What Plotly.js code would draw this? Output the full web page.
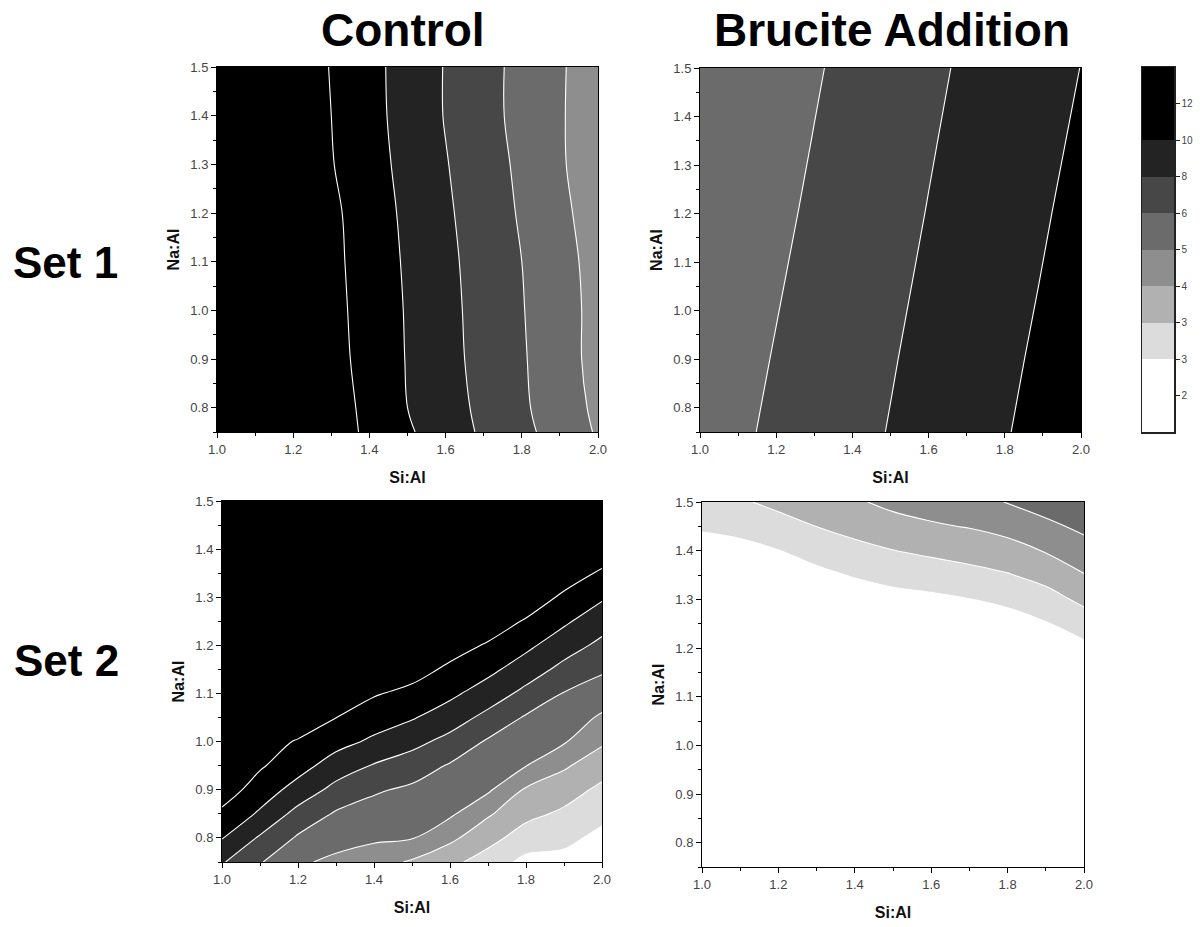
<!DOCTYPE html>
<html>
<head>
<meta charset="utf-8">
<script src="https://cdn.plot.ly/plotly-3.0.1.min.js"></script>
<style>html,body{margin:0;padding:0;background:#fff}</style>
</head>
<body>
<div id="chart" style="width:1204px;height:927px"></div>
<script>
// ---- axes grids ----
const siAl = [1.0, 1.1, 1.2, 1.3, 1.4, 1.5, 1.6, 1.7, 1.8, 1.9, 2.0];
const naAlSet1Control = [0.75, 0.8, 0.9, 1.0, 1.1, 1.2, 1.3, 1.4, 1.5];
const naAlSet1Brucite = [0.75, 0.9, 1.05, 1.2, 1.35, 1.5];
const naAlSet2 = [0.75, 0.8, 0.85, 0.9, 0.95, 1.0, 1.05, 1.1, 1.15, 1.2, 1.25, 1.3, 1.35, 1.4, 1.45, 1.5];

// ---- Set 1, Control (rows = Na:Al, cols = Si:Al) ----
const set1Control = [
  [17.2, 15.8, 14.4, 13.0, 11.6, 10.25, 9.0, 7.7, 6.5, 5.6, 4.9],
  [17.2, 15.8, 14.3, 12.9, 11.5, 10.0, 8.8, 7.55, 6.3, 5.5, 4.8],
  [17.0, 15.6, 14.1, 12.7, 11.3, 9.9, 8.6, 7.4, 6.2, 5.4, 4.7],
  [16.7, 15.35, 14.0, 12.6, 11.2, 9.85, 8.55, 7.3, 6.1, 5.4, 4.7],
  [16.7, 15.3, 13.9, 12.5, 11.1, 9.75, 8.45, 7.2, 6.0, 5.35, 4.65],
  [16.6, 15.2, 13.8, 12.4, 11.0, 9.6, 8.3, 7.0, 5.9, 5.2, 4.6],
  [16.2, 14.8, 13.5, 12.1, 10.8, 9.4, 8.1, 6.9, 5.8, 5.1, 4.5],
  [16.0, 14.6, 13.3, 12.0, 10.6, 9.3, 7.9, 6.7, 5.7, 5.1, 4.4],
  [16.0, 14.6, 13.3, 11.9, 10.6, 9.2, 7.9, 6.7, 5.7, 5.1, 4.5]
];

// ---- Set 1, Brucite Addition (rows = Na:Al, cols = Si:Al) ----
const set1Brucite = [
  [5.57, 5.86, 6.31, 6.9, 7.49, 8.08, 8.69, 9.29, 9.9, 10.5, 11.1],
  [5.46, 5.75, 6.1, 6.69, 7.28, 7.88, 8.48, 9.08, 9.69, 10.29, 10.9],
  [5.35, 5.65, 5.94, 6.48, 7.08, 7.67, 8.27, 8.87, 9.47, 10.07, 10.68],
  [5.23, 5.53, 5.83, 6.26, 6.86, 7.46, 8.06, 8.66, 9.26, 9.86, 10.46],
  [5.12, 5.42, 5.72, 6.05, 6.65, 7.25, 7.86, 8.45, 9.05, 9.64, 10.24],
  [5.06, 5.31, 5.61, 5.92, 6.44, 7.04, 7.65, 8.25, 8.84, 9.43, 10.02]
];

// ---- Set 2, Control (one list per Si:Al column, Na:Al ascending) ----
const set2Control = [
  [8.19, 10.09, 11.58, 13.07, 13.47, 13.87, 14.27, 14.67, 15.07, 15.47, 15.87, 16.27, 16.67, 17.07, 17.47, 17.87],
  [6.16, 7.75, 9.71, 11.04, 12.24, 12.64, 13.04, 13.44, 13.84, 14.24, 14.64, 15.04, 15.44, 15.84, 16.24, 16.64],
  [5.15, 5.88, 7.33, 9.26, 10.74, 11.87, 12.99, 13.39, 13.79, 14.19, 14.59, 14.99, 15.39, 15.79, 16.19, 16.59],
  [4.79, 5.37, 5.89, 7.38, 9.10, 10.65, 12.01, 13.35, 13.75, 14.15, 14.55, 14.95, 15.35, 15.75, 16.15, 16.55],
  [4.39, 5.17, 5.62, 6.23, 7.84, 9.64, 10.96, 12.17, 12.57, 12.97, 13.37, 13.77, 14.17, 14.57, 14.97, 15.37],
  [3.88, 5.05, 5.44, 5.83, 6.97, 8.6, 10.16, 11.47, 12.79, 13.19, 13.59, 13.99, 14.39, 14.79, 15.19, 15.59],
  [3.26, 4.22, 5.16, 5.54, 5.91, 7.36, 8.98, 10.41, 11.61, 12.82, 13.22, 13.62, 14.02, 14.42, 14.82, 15.22],
  [2.77, 3.34, 4.12, 5.15, 5.52, 5.88, 7.42, 9.07, 10.49, 11.79, 13.09, 13.49, 13.89, 14.29, 14.69, 15.09],
  [2.37, 2.77, 3.27, 3.87, 5.02, 5.45, 5.89, 7.45, 9.03, 10.44, 11.81, 13.18, 13.58, 13.98, 14.38, 14.78],
  [2.35, 2.63, 2.91, 3.44, 4.13, 5.09, 5.52, 5.95, 7.42, 8.91, 10.32, 11.65, 12.99, 13.39, 13.79, 14.19],
  [2.11, 2.37, 2.63, 2.89, 3.43, 4.14, 4.86, 5.51, 6.27, 7.51, 8.83, 10.24, 11.71, 13.18, 13.58, 13.98]
];

// ---- Set 2, Brucite Addition (one list per Si:Al column, Na:Al ascending) ----
const set2Brucite = [
  [1.66, 1.71, 1.76, 1.81, 1.86, 1.91, 1.96, 2.01, 2.06, 2.11, 2.16, 2.21, 2.26, 2.31, 2.56, 2.81],
  [1.70, 1.75, 1.80, 1.85, 1.90, 1.95, 2.00, 2.05, 2.10, 2.15, 2.20, 2.25, 2.30, 2.35, 2.65, 2.94],
  [1.84, 1.89, 1.94, 1.99, 2.04, 2.09, 2.14, 2.19, 2.24, 2.29, 2.34, 2.39, 2.44, 2.49, 2.81, 3.25],
  [1.78, 1.83, 1.88, 1.93, 1.98, 2.03, 2.08, 2.13, 2.18, 2.23, 2.28, 2.33, 2.38, 2.69, 3.01, 3.59],
  [1.68, 1.73, 1.78, 1.83, 1.88, 1.93, 1.98, 2.03, 2.08, 2.13, 2.18, 2.23, 2.54, 2.86, 3.32, 3.89],
  [1.79, 1.84, 1.89, 1.94, 1.99, 2.04, 2.09, 2.14, 2.19, 2.24, 2.29, 2.34, 2.66, 2.99, 3.68, 4.21],
  [1.85, 1.90, 1.95, 2.00, 2.05, 2.10, 2.15, 2.20, 2.25, 2.30, 2.35, 2.40, 2.75, 3.19, 3.90, 4.38],
  [1.94, 1.99, 2.04, 2.09, 2.14, 2.19, 2.24, 2.29, 2.34, 2.39, 2.44, 2.49, 2.85, 3.39, 4.05, 4.64],
  [1.77, 1.82, 1.87, 1.92, 1.97, 2.02, 2.07, 2.12, 2.17, 2.22, 2.27, 2.62, 2.97, 3.63, 4.33, 5.04],
  [1.97, 2.02, 2.07, 2.12, 2.17, 2.22, 2.27, 2.32, 2.37, 2.42, 2.47, 2.81, 3.33, 4.06, 4.76, 5.46],
  [1.93, 1.98, 2.03, 2.08, 2.13, 2.18, 2.23, 2.28, 2.33, 2.38, 2.75, 3.23, 3.96, 4.59, 5.23, 5.86]
];

// ---- colour levels (colour-bar bands) ----
const levelValues = [1, 2, 2.5, 3, 4, 5, 6, 8, 10, 12, 14];
const levelLabels = ['2', '3', '3', '4', '5', '6', '8', '10', '12'];
const bandColors = ['#ffffff', '#ffffff', '#dcdcdc', '#b1b1b1', '#8e8e8e', '#6b6b6b', '#474747', '#232323', '#000000', '#000000'];

// map a value onto the (equally spaced) level index used by the colour bar
function levelIndex(v) {
  const L = levelValues, n = L.length - 1;
  if (v <= L[0]) return (v - L[0]) / (L[1] - L[0]);
  for (let i = 0; i < n; i++) if (v <= L[i + 1]) return i + (v - L[i]) / (L[i + 1] - L[i]);
  return n + (v - L[n]) / (L[n] - L[n - 1]);
}
const mapGrid = g => g.map(r => r.map(levelIndex));

// contour colorscale: fills evaluated at level+0.5 for levels 2..9, background at 1.5
const nLev = 8;
const contourScale = [];
for (let k = 0; k <= nLev; k++) contourScale.push([k / nLev, bandColors[k + 1]]);

const FONT = 'Liberation Sans, Arial, sans-serif';

function contourTrace(x, y, z, xa, ya, transpose) {
  return {
    type: 'contour', x: x, y: y, z: mapGrid(z), transpose: !!transpose,
    xaxis: xa, yaxis: ya,
    autocontour: false,
    contours: {start: 2, end: 9, size: 1, coloring: 'fill', showlines: true},
    line: {color: '#ffffff', width: 1.1, smoothing: 1.1},
    colorscale: contourScale, showscale: false, hoverinfo: 'skip'
  };
}

// colour bar drawn as a one-column heatmap on its own axes
const barIdx = bandColors.map((c, i) => i + 0.5);
const barScale = [];
bandColors.forEach((c, i) => { barScale.push([i / bandColors.length, c]); barScale.push([(i + 1) / bandColors.length, c]); });

const traces = [
  contourTrace(siAl, naAlSet1Control, set1Control, 'x', 'y', false),
  contourTrace(siAl, naAlSet1Brucite, set1Brucite, 'x2', 'y2', false),
  contourTrace(siAl, naAlSet2, set2Control, 'x3', 'y3', true),
  contourTrace(siAl, naAlSet2, set2Brucite, 'x4', 'y4', true),
  {
    type: 'heatmap', x: [0], y: barIdx, z: barIdx.map(v => [v]),
    zmin: 0, zmax: bandColors.length, colorscale: barScale, showscale: false,
    xaxis: 'x5', yaxis: 'y5', hoverinfo: 'skip'
  }
];

const W = 1204, H = 927;
const px = (a, b) => [a / W, b / W];
const py = (top, bottom) => [1 - bottom / H, 1 - top / H];

function xAxis(dom, anchor) {
  return {
    domain: dom, anchor: anchor, range: [1, 2], tick0: 1, dtick: 0.2, tickformat: '.1f',
    ticks: 'outside', ticklen: 5, tickwidth: 1, tickcolor: '#000',
    minor: {dtick: 0.1, ticks: 'outside', ticklen: 3, tickwidth: 1, tickcolor: '#000'},
    showline: true, linecolor: '#000', linewidth: 1, mirror: true,
    showgrid: false, zeroline: false,
    tickfont: {family: FONT, size: 13, color: '#444'},
    title: {text: '<b>Si:Al</b>', font: {family: FONT, size: 16, color: '#111'}, standoff: 16}
  };
}
function yAxis(dom, anchor) {
  return {
    domain: dom, anchor: anchor, range: [0.75, 1.5], tick0: 0.8, dtick: 0.1, tickformat: '.1f',
    ticks: 'outside', ticklen: 5, tickwidth: 1, tickcolor: '#000',
    minor: {dtick: 0.05, tick0: 0.75, ticks: 'outside', ticklen: 3, tickwidth: 1, tickcolor: '#000'},
    showline: true, linecolor: '#000', linewidth: 1, mirror: true,
    showgrid: false, zeroline: false,
    tickfont: {family: FONT, size: 13, color: '#444'},
    title: {text: '<b>Na:Al</b>', font: {family: FONT, size: 16, color: '#111'}, standoff: 6}
  };
}

const layout = {
  width: W, height: H, margin: {l: 0, r: 0, t: 0, b: 0},
  paper_bgcolor: '#fff', plot_bgcolor: '#fff', showlegend: false,
  font: {family: FONT},
  xaxis: xAxis(px(217, 598), 'y'), yaxis: yAxis(py(67, 432), 'x'),
  xaxis2: xAxis(px(700, 1081), 'y2'), yaxis2: yAxis(py(68, 432), 'x2'),
  xaxis3: xAxis(px(222, 602), 'y3'), yaxis3: yAxis(py(501, 862), 'x3'),
  xaxis4: xAxis(px(702, 1084), 'y4'), yaxis4: yAxis(py(502, 867), 'x4'),
  xaxis5: {domain: px(1142, 1174), anchor: 'y5', range: [-0.5, 0.5], showticklabels: false, ticks: '',
    showline: true, mirror: true, linecolor: '#222', linewidth: 1.5, showgrid: false, zeroline: false},
  yaxis5: {domain: py(67, 432), anchor: 'x5', side: 'right', range: [0, bandColors.length],
    tickvals: levelLabels.map((t, i) => i + 1), ticktext: levelLabels,
    ticks: 'outside', ticklen: 4, tickwidth: 1, tickcolor: '#222',
    showline: true, mirror: true, linecolor: '#222', linewidth: 1.5, showgrid: false, zeroline: false,
    tickfont: {family: FONT, size: 10, color: '#444'}},
  annotations: [
    {text: '<b>Control</b>', x: 403 / W, y: 1 - 30 / H, xref: 'paper', yref: 'paper', xanchor: 'center', yanchor: 'middle', showarrow: false, font: {family: FONT, size: 46, color: '#000'}},
    {text: '<b>Brucite Addition</b>', x: 892 / W, y: 1 - 30 / H, xref: 'paper', yref: 'paper', xanchor: 'center', yanchor: 'middle', showarrow: false, font: {family: FONT, size: 46, color: '#000'}},
    {text: '<b>Set 1</b>', x: 65 / W, y: 1 - 262 / H, xref: 'paper', yref: 'paper', xanchor: 'center', yanchor: 'middle', showarrow: false, font: {family: FONT, size: 44, color: '#000'}},
    {text: '<b>Set 2</b>', x: 66 / W, y: 1 - 660 / H, xref: 'paper', yref: 'paper', xanchor: 'center', yanchor: 'middle', showarrow: false, font: {family: FONT, size: 44, color: '#000'}}
  ]
};

Plotly.newPlot('chart', traces, layout, {displayModeBar: false, staticPlot: true});
</script>
</body>
</html>
